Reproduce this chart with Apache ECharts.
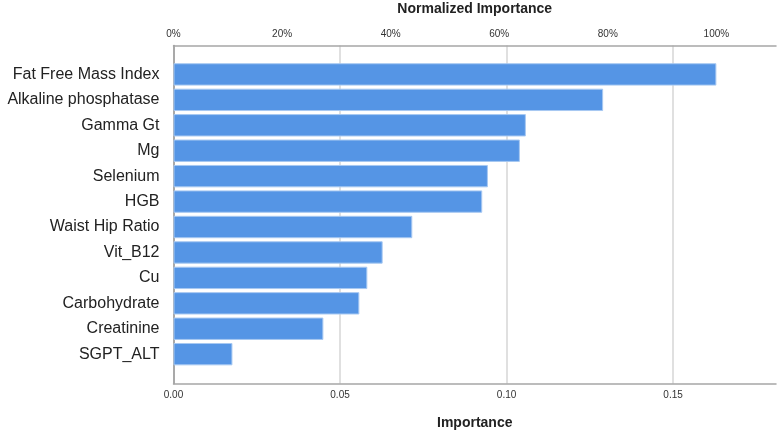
<!DOCTYPE html>
<html>
<head>
<meta charset="utf-8">
<script src="https://cdn.jsdelivr.net/npm/echarts@6/dist/echarts.min.js"></script>
<style>html,body{margin:0;padding:0;background:#fff}#c{width:778px;height:431px}</style>
</head>
<body>
<div id="c"></div>
<script>
var categories = ['Fat Free Mass Index','Alkaline phosphatase','Gamma Gt','Mg','Selenium','HGB','Waist Hip Ratio','Vit_B12','Cu','Carbohydrate','Creatinine','SGPT_ALT'];
var importance = [0.1630, 0.1290, 0.1058, 0.1040, 0.0944, 0.0927, 0.0717, 0.0628, 0.0582, 0.0558, 0.0450, 0.0177];
var importanceMax = 0.1809;
var importanceTicks = 0.05;
var percentTicks = 20;

var maxImp = Math.max.apply(null, importance);
var pctMax = importanceMax / maxImp * 100;
var lineGrey = '#a6a6a6';
var tickFont = {fontFamily: 'Liberation Sans, Arial, sans-serif', fontSize: 10, color: '#333'};

var chart = echarts.init(document.getElementById('c'));
chart.setOption({
  animation: false,
  grid: [
    {left: 173.5, right: 2, top: 45.5, bottom: 47.3, outerBoundsMode: 'none', containLabel: false},
    {left: 173.5, right: 2, top: 61.7, height: 305.2, outerBoundsMode: 'none', containLabel: false}
  ],
  xAxis: [
    {
      gridIndex: 0, type: 'value', position: 'bottom', min: 0, max: importanceMax, interval: importanceTicks,
      name: 'Importance', nameLocation: 'middle', nameGap: 32,
      nameTextStyle: {fontFamily: 'Liberation Sans, Arial, sans-serif', fontSize: 14, fontWeight: 'bold', color: '#222'},
      axisLine: {show: true, onZero: false, lineStyle: {color: lineGrey, width: 1.5}},
      axisTick: {show: false},
      axisLabel: Object.assign({margin: 7, showMaxLabel: false, formatter: function (v) {
        var k = Math.round(v / importanceTicks);
        return Math.abs(k * importanceTicks - v) < 1e-9 ? v.toFixed(2) : '';
      }}, tickFont),
      splitLine: {show: true, showMinLine: false, showMaxLine: false, lineStyle: {color: '#d6d6d6', width: 1.5}}
    },
    {
      gridIndex: 0, type: 'value', position: 'top', min: 0, max: pctMax, interval: percentTicks,
      name: 'Normalized Importance', nameLocation: 'middle', nameGap: 29,
      nameTextStyle: {fontFamily: 'Liberation Sans, Arial, sans-serif', fontSize: 14, fontWeight: 'bold', color: '#222'},
      axisLine: {show: true, onZero: false, lineStyle: {color: lineGrey, width: 1.5}},
      axisTick: {show: false},
      axisLabel: Object.assign({margin: 6, showMaxLabel: false, formatter: function (v) {
        var k = Math.round(v / percentTicks);
        return Math.abs(k * percentTicks - v) < 1e-9 ? v + '%' : '';
      }}, tickFont),
      splitLine: {show: false}
    },
    {
      gridIndex: 1, type: 'value', min: 0, max: importanceMax, show: false
    }
  ],
  yAxis: [
    {
      gridIndex: 0, type: 'value', min: 0, max: 1,
      axisLine: {show: true, lineStyle: {color: '#8c8c8c', width: 1.5}},
      axisTick: {show: false}, axisLabel: {show: false}, splitLine: {show: false}
    },
    {
      gridIndex: 1, type: 'category', data: categories, inverse: true,
      axisLine: {show: false}, axisTick: {show: false},
      axisLabel: {margin: 14, fontFamily: 'Liberation Sans, Arial, sans-serif', fontSize: 16, color: '#222'}
    }
  ],
  series: [{
    type: 'bar', xAxisIndex: 2, yAxisIndex: 1,
    data: importance,
    barCategoryGap: '12%',
    itemStyle: {color: '#5595e5', borderColor: '#a8c9f2', borderWidth: 1}
  }]
});
</script>
</body>
</html>
